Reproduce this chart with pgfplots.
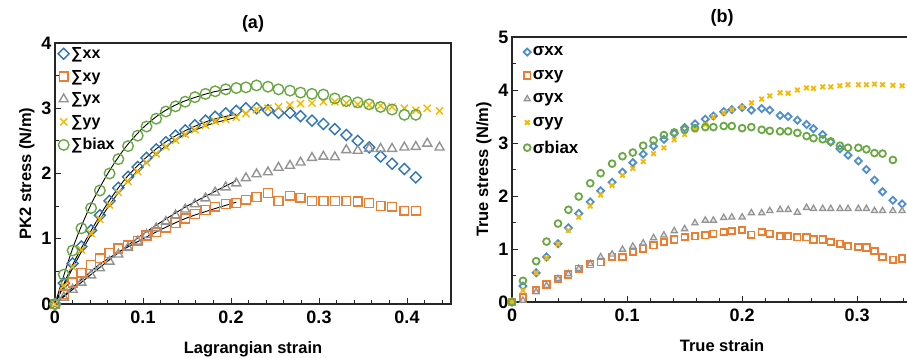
\documentclass[border=0pt]{standalone}
\usepackage{fontspec}
\setmainfont{Liberation Sans}
\usepackage{pgfplots}
\pgfplotsset{compat=1.18}
\definecolor{cblueA}{HTML}{2E75B6}
\definecolor{cblueB}{HTML}{4F8FD0}
\definecolor{corange}{HTML}{ED7D31}
\definecolor{cgray}{HTML}{939393}
\definecolor{cyellow}{HTML}{F5B800}
\definecolor{cgreen}{HTML}{6AA843}
\pgfplotsset{
  panel/.style={
    scale only axis, anchor=south west,
    axis line style={line width=1.3pt, black!85},
    tick align=inside, xtick pos=bottom, ytick pos=left,
    major tick length=6pt, minor tick length=4pt,
    every tick/.style={line width=1pt, black!85},
    /pgf/number format/assume math mode=true,
    ticklabel style={font=\bfseries\fontsize{18}{18}\selectfont},
    xticklabel style={yshift=-3pt},
    label style={font=\bfseries\fontsize{16.5}{16.5}\selectfont},
    xlabel style={yshift=-11.5pt},
    title style={font=\bfseries\fontsize{18}{18}\selectfont, yshift=1pt},
    clip=false,
    legend cell align=left,
  },
}
\begin{document}
\begin{tikzpicture}
\useasboundingbox (0,0) rectangle (907pt,357pt);
% ---------------- panel (a)
\begin{axis}[panel, at={(55pt,53pt)}, width=396pt, height=261pt,
  xmin=0, xmax=0.45, ymin=0, ymax=4,
  xtick={0,0.1,0.2,0.3,0.4}, xticklabels={0,0.1,0.2,0.3,0.4},
  ytick={0,1,2,3,4}, yticklabels={0,1,2,3,4},
  minor xtick={0.02,0.04,0.06,0.08,0.12,0.14,0.16,0.18,0.22,0.24,0.26,0.28,0.32,0.34,0.36,0.38,0.42,0.44},
  minor ytick={0.5,1.5,2.5,3.5},
  xlabel={Lagrangian strain}, ylabel={PK2 stress (N/m)},
  title={(a)},
  legend style={at={(0.005,0.995)}, anchor=north west, draw=none, fill=none,
    font=\bfseries\fontsize{16}{18}\selectfont, inner sep=1pt, row sep=6.2pt,
    /tikz/every even column/.append style={column sep=0pt}},
]
\addplot[only marks, mark=square, mark size=3.9pt, mark options={rotate=45, draw=cblueA, line width=1.4pt}]
coordinates {(0,0)(0.010,0.32)(0.020,0.62)(0.030,0.88)(0.041,1.13)(0.051,1.36)(0.062,1.58)(0.072,1.78)(0.083,1.95)(0.094,2.10)(0.104,2.24)(0.115,2.37)(0.126,2.48)(0.137,2.58)(0.148,2.66)(0.159,2.74)(0.171,2.81)(0.182,2.87)(0.194,2.92)(0.206,2.96)(0.217,3.00)(0.229,3.00)(0.242,2.97)(0.254,2.93)(0.267,2.93)(0.279,2.88)(0.292,2.81)(0.305,2.76)(0.318,2.68)(0.331,2.59)(0.344,2.50)(0.357,2.40)(0.370,2.26)(0.383,2.15)(0.397,2.07)(0.410,1.94)};
\addlegendentry{∑xx}
\addplot[only marks, mark=square, mark size=4.4pt, mark options={draw=corange, line width=1.4pt}]
coordinates {(0,0)(0.010,0.15)(0.020,0.33)(0.030,0.48)(0.041,0.60)(0.051,0.70)(0.062,0.78)(0.072,0.85)(0.083,0.90)(0.094,0.97)(0.104,1.05)(0.115,1.10)(0.126,1.17)(0.137,1.24)(0.148,1.31)(0.159,1.38)(0.171,1.44)(0.182,1.49)(0.194,1.53)(0.206,1.55)(0.217,1.60)(0.229,1.64)(0.242,1.70)(0.254,1.58)(0.267,1.66)(0.279,1.63)(0.292,1.58)(0.305,1.58)(0.318,1.58)(0.331,1.58)(0.344,1.57)(0.357,1.55)(0.370,1.50)(0.383,1.49)(0.397,1.43)(0.410,1.43)};
\addlegendentry{∑xy}
\addplot[only marks, mark=triangle, mark size=5.2pt, mark options={draw=cgray, line width=1.4pt}]
coordinates {(0,0)(0.010,0.10)(0.020,0.22)(0.030,0.33)(0.041,0.44)(0.051,0.55)(0.062,0.65)(0.072,0.76)(0.083,0.86)(0.094,0.96)(0.104,1.06)(0.115,1.16)(0.126,1.26)(0.137,1.36)(0.148,1.45)(0.159,1.53)(0.171,1.62)(0.182,1.71)(0.194,1.79)(0.206,1.85)(0.217,1.93)(0.229,1.99)(0.242,2.02)(0.254,2.09)(0.267,2.12)(0.279,2.17)(0.292,2.24)(0.305,2.26)(0.318,2.25)(0.331,2.36)(0.344,2.35)(0.357,2.38)(0.370,2.38)(0.383,2.38)(0.397,2.40)(0.410,2.41)(0.423,2.46)(0.437,2.40)};
\addlegendentry{∑yx}
\addplot[only marks, mark=x, mark size=5pt, mark options={draw=cyellow, line width=1.4pt}]
coordinates {(0,0)(0.010,0.28)(0.020,0.57)(0.030,0.83)(0.041,1.08)(0.051,1.30)(0.062,1.52)(0.072,1.71)(0.083,1.88)(0.094,2.03)(0.104,2.17)(0.115,2.30)(0.126,2.41)(0.137,2.51)(0.148,2.60)(0.159,2.67)(0.171,2.74)(0.182,2.80)(0.194,2.83)(0.206,2.86)(0.217,2.92)(0.229,2.98)(0.242,3.00)(0.254,3.02)(0.267,3.05)(0.279,3.07)(0.292,3.08)(0.305,3.10)(0.318,3.10)(0.331,3.08)(0.344,3.06)(0.357,3.05)(0.370,3.04)(0.383,3.02)(0.397,3.00)(0.410,2.97)(0.423,3.00)(0.437,2.96)};
\addlegendentry{∑yy}
\addplot[only marks, mark=o, mark size=5.3pt, mark options={draw=cgreen, line width=1.4pt}]
coordinates {(0,0)(0.010,0.45)(0.020,0.82)(0.030,1.16)(0.041,1.47)(0.051,1.74)(0.062,2.00)(0.072,2.22)(0.083,2.42)(0.094,2.58)(0.104,2.72)(0.115,2.84)(0.126,2.95)(0.137,3.03)(0.148,3.10)(0.159,3.17)(0.171,3.22)(0.182,3.26)(0.194,3.29)(0.206,3.31)(0.217,3.32)(0.229,3.35)(0.242,3.33)(0.254,3.29)(0.267,3.27)(0.279,3.24)(0.292,3.22)(0.305,3.21)(0.318,3.15)(0.331,3.11)(0.344,3.09)(0.357,3.06)(0.370,3.02)(0.383,2.98)(0.397,2.90)(0.410,2.90)};
\addlegendentry{∑biax}
% fitted curves
\addplot[black, line width=0.9pt, smooth, forget plot] coordinates {(0,0)(0.02,0.85)(0.04,1.50)(0.06,2.00)(0.08,2.40)(0.10,2.70)(0.12,2.92)(0.14,3.07)(0.16,3.17)(0.18,3.25)(0.20,3.30)};
\addplot[black, line width=0.9pt, smooth, forget plot] coordinates {(0,0)(0.02,0.60)(0.04,1.10)(0.06,1.55)(0.08,1.92)(0.10,2.20)(0.12,2.43)(0.14,2.60)(0.16,2.73)(0.18,2.83)(0.206,2.91)};
\addplot[black, line width=0.9pt, smooth, forget plot] coordinates {(0,0)(0.02,0.55)(0.04,1.04)(0.06,1.48)(0.08,1.84)(0.10,2.12)(0.12,2.36)(0.14,2.54)(0.16,2.67)(0.18,2.77)(0.206,2.86)};
\addplot[black, line width=0.9pt, smooth, forget plot] coordinates {(0,0)(0.05,0.55)(0.10,1.07)(0.15,1.50)(0.206,1.89)};
\addplot[black, line width=0.9pt, smooth, forget plot] coordinates {(0,0)(0.05,0.60)(0.10,1.00)(0.15,1.32)(0.206,1.56)};
\end{axis}
% ---------------- panel (b)
\begin{axis}[panel, at={(512pt,55pt)}, width=420pt, height=265pt,
  xmin=0, xmax=0.365, ymin=0, ymax=5,
  xtick={0,0.1,0.2,0.3}, xticklabels={0,0.1,0.2,0.3},
  ytick={0,1,2,3,4,5}, yticklabels={0,1,2,3,4,5},
  minor xtick={0.02,0.04,0.06,0.08,0.12,0.14,0.16,0.18,0.22,0.24,0.26,0.28,0.32,0.34,0.36},
  minor ytick={0.5,1.5,2.5,3.5,4.5},
  xlabel={True strain}, ylabel={True stress (N/m)},
  title={(b)},
  legend style={at={(0.025,0.975)}, anchor=north west, draw=none, fill=none,
    font=\bfseries\fontsize{17}{19}\selectfont, inner sep=1pt, row sep=9pt,
    /tikz/every even column/.append style={column sep=1pt}},
]
\addplot[only marks, mark=square, mark size=2.5pt, mark options={rotate=45, draw=cblueB, line width=1.8pt}]
coordinates {(0,0)(0.0095,0.30)(0.021,0.55)(0.030,0.85)(0.040,1.10)(0.049,1.40)(0.058,1.67)(0.068,1.89)(0.077,2.10)(0.087,2.26)(0.096,2.45)(0.105,2.63)(0.114,2.79)(0.123,2.94)(0.132,3.07)(0.141,3.18)(0.150,3.29)(0.159,3.36)(0.168,3.45)(0.175,3.51)(0.184,3.59)(0.191,3.63)(0.200,3.67)(0.208,3.62)(0.217,3.65)(0.224,3.62)(0.233,3.52)(0.240,3.50)(0.248,3.43)(0.256,3.35)(0.262,3.27)(0.270,3.16)(0.277,3.02)(0.285,2.89)(0.292,2.77)(0.301,2.66)(0.308,2.50)(0.315,2.30)(0.322,2.08)(0.331,1.92)(0.339,1.85)};
\addlegendentry{σxx}
\addplot[only marks, mark=square, mark size=3.2pt, mark options={draw=corange, line width=1.8pt}]
coordinates {(0,0)(0.0095,0.09)(0.021,0.22)(0.030,0.33)(0.040,0.44)(0.049,0.52)(0.058,0.63)(0.068,0.71)(0.077,0.75)(0.087,0.85)(0.096,0.85)(0.105,0.94)(0.114,1.01)(0.123,1.07)(0.132,1.13)(0.141,1.18)(0.150,1.23)(0.159,1.24)(0.168,1.26)(0.175,1.29)(0.184,1.32)(0.191,1.34)(0.200,1.36)(0.208,1.27)(0.217,1.32)(0.224,1.29)(0.233,1.24)(0.240,1.24)(0.248,1.22)(0.256,1.22)(0.262,1.18)(0.270,1.18)(0.277,1.13)(0.285,1.10)(0.292,1.05)(0.301,1.04)(0.308,1.03)(0.315,0.96)(0.322,0.85)(0.331,0.80)(0.339,0.82)};
\addlegendentry{σxy}
\addplot[only marks, mark=triangle*, mark size=3.6pt, mark options={draw=cgray, fill=cgray!25, line width=1.2pt}]
coordinates {(0,0)(0.0095,0.03)(0.021,0.19)(0.030,0.31)(0.040,0.44)(0.049,0.53)(0.058,0.63)(0.068,0.72)(0.077,0.85)(0.087,0.90)(0.096,0.99)(0.105,1.05)(0.114,1.11)(0.123,1.21)(0.132,1.26)(0.141,1.34)(0.150,1.38)(0.159,1.49)(0.168,1.54)(0.175,1.54)(0.184,1.59)(0.191,1.60)(0.200,1.60)(0.208,1.68)(0.217,1.68)(0.224,1.72)(0.233,1.74)(0.240,1.74)(0.248,1.69)(0.256,1.78)(0.262,1.76)(0.270,1.76)(0.277,1.76)(0.285,1.76)(0.292,1.76)(0.301,1.76)(0.308,1.76)(0.315,1.72)(0.322,1.72)(0.331,1.72)(0.339,1.72)};
\addlegendentry{σyx}
\addplot[only marks, mark=x, mark size=3.2pt, mark options={draw=cyellow, line width=1.8pt}]
coordinates {(0,0)(0.0095,0.22)(0.021,0.55)(0.030,0.83)(0.040,1.09)(0.049,1.35)(0.058,1.60)(0.068,1.81)(0.077,2.02)(0.087,2.20)(0.096,2.39)(0.105,2.52)(0.114,2.65)(0.123,2.80)(0.132,2.91)(0.141,3.06)(0.150,3.16)(0.159,3.25)(0.168,3.35)(0.175,3.49)(0.184,3.57)(0.191,3.63)(0.200,3.68)(0.208,3.76)(0.217,3.83)(0.224,3.89)(0.233,3.95)(0.240,3.94)(0.248,4.00)(0.256,4.04)(0.262,4.03)(0.270,4.06)(0.277,4.06)(0.285,4.08)(0.292,4.10)(0.301,4.10)(0.308,4.10)(0.315,4.11)(0.322,4.10)(0.331,4.09)(0.339,4.08)};
\addlegendentry{σyy}
\addplot[only marks, mark=o, mark size=3.4pt, mark options={draw=cgreen, line width=1.8pt}]
coordinates {(0,0)(0.0095,0.40)(0.021,0.77)(0.030,1.14)(0.040,1.48)(0.049,1.74)(0.058,1.99)(0.068,2.24)(0.077,2.43)(0.087,2.61)(0.096,2.75)(0.105,2.82)(0.114,2.95)(0.123,3.05)(0.132,3.15)(0.141,3.20)(0.150,3.25)(0.159,3.28)(0.168,3.30)(0.175,3.30)(0.184,3.32)(0.191,3.32)(0.200,3.28)(0.208,3.30)(0.217,3.25)(0.224,3.23)(0.233,3.22)(0.240,3.22)(0.248,3.19)(0.256,3.13)(0.262,3.09)(0.270,3.07)(0.277,3.03)(0.285,2.95)(0.292,2.91)(0.301,2.91)(0.308,2.88)(0.315,2.81)(0.322,2.80)(0.331,2.68)};
\addlegendentry{σbiax}
\end{axis}
\end{tikzpicture}
\end{document}
